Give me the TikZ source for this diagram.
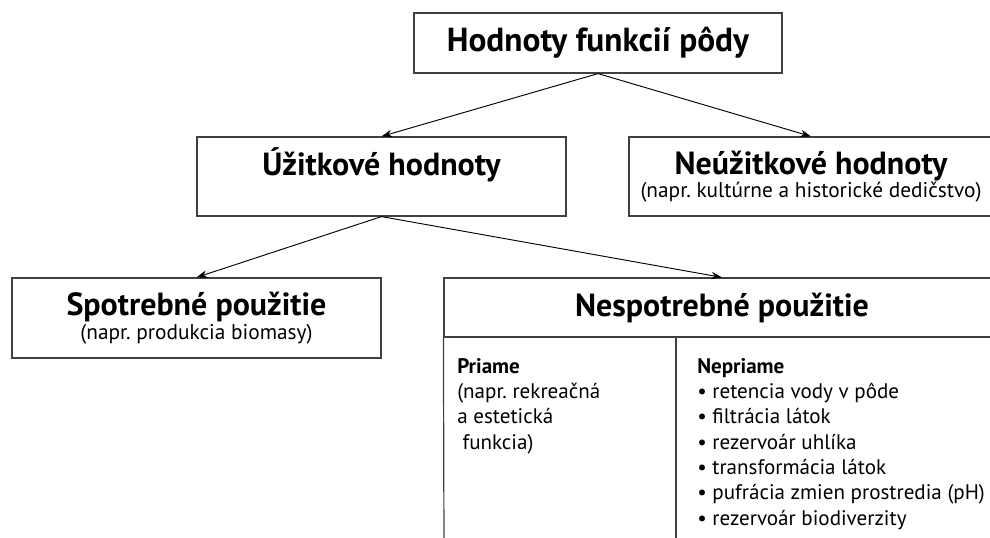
\documentclass[tikz,border=0pt]{standalone}
\usepackage{fontspec}
\setmainfont{PT Sans}
\usetikzlibrary{arrows.meta,positioning}
\frenchspacing
\newcommand\subsize{\fontsize{16}{17}\selectfont\mdseries}

\begin{document}
\begin{tikzpicture}[x=0.75pt,y=-0.75pt,
	box/.style={rectangle,draw=black!75,line width=0.9pt,inner sep=0pt,align=center},
	hd/.style={font=\fontsize{24}{17}\selectfont\bfseries},
	col/.style={anchor=north west,inner sep=0pt,align=left,font=\fontsize{15.8}{19}\selectfont},
	arr/.style={draw,line width=0.7pt,-{Stealth[length=8pt,width=5.5pt,inset=2.5pt]}}
]
	\useasboundingbox (0,0) rectangle (990,538);
	\clip (0,0) rectangle (990,538);
	\node[box,minimum width=276pt,minimum height=45pt,font=\fontsize{25}{28}\selectfont\bfseries] (top) at (598,43) {Hodnoty funkcií pôdy};
	\node[box,hd,minimum width=276.75pt,minimum height=59.25pt] (uzit) at (381.5,176.5) {Úžitkové hodnoty\\{\subsize\strut}};
	\node[box,hd,minimum width=273pt,minimum height=59.25pt] (neuzit) at (811,176.5) {Neúžitkové hodnoty\\{\subsize (napr. kultúrne a historické dedičstvo)}};
	\node[box,hd,minimum width=276.75pt,minimum height=60pt] (spotr) at (196.5,318) {Spotrebné použitie\\[1.5pt]{\subsize (napr. produkcia biomasy)}};
	\node[box,hd,minimum width=417pt,minimum height=44.25pt] (nesp) at (722,307.5) {Nespotrebné použitie};
	\draw[draw=black!75,line width=0.9pt] (nesp.south west) -- (444,545);
	\draw[draw=black!75,line width=0.9pt] (676,337) -- (676,545);
	\node[col] (priame) at (457,358) {\textbf{Priame}\\(napr. rekreačná\\a estetická\\\hspace{0.25em}funkcia)};
	\node[col] (nepriame) at (697,358) {\textbf{Nepriame}\\
		\textbullet\ retencia vody v pôde\\
		\textbullet\ filtrácia látok\\
		\textbullet\ rezervoár uhlíka\\
		\textbullet\ transformácia látok\\
		\textbullet\ pufrácia zmien prostredia (pH)\\
		\textbullet\ rezervoár biodiverzity};
	\draw[arr] (top.south) -- (uzit.north);
	\draw[arr] (top.south) -- (neuzit.north);
	\draw[arr] (uzit.south) -- (spotr.north);
	\draw[arr] (uzit.south) -- (nesp.north);
\end{tikzpicture}
\end{document}
